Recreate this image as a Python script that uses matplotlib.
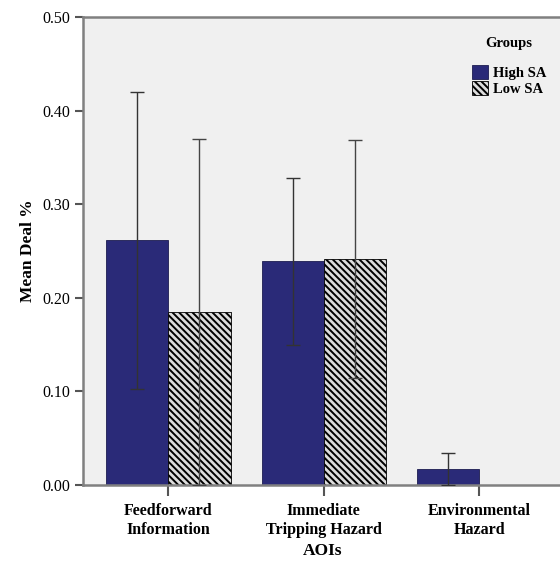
import matplotlib
matplotlib.use('Agg')
import matplotlib.pyplot as plt
import numpy as np

aois = ['Feedforward\nInformation', 'Immediate\nTripping Hazard', 'Environmental\nHazard']
groups = ['High SA', 'Low SA']
high_mean = [0.262, 0.239, 0.017]
high_lo = [0.103, 0.150, 0.000]
high_hi = [0.420, 0.328, 0.034]
low_mean = [0.185, 0.241, 0.0]
low_lo = [0.0, 0.114, 0.0]
low_hi = [0.370, 0.369, 0.0]

plt.rcParams['font.family'] = ['Liberation Serif', 'DejaVu Serif']
plt.rcParams['hatch.linewidth'] = 1.4

fig = plt.figure(figsize=(5.6, 5.66), dpi=100)
ax = fig.add_axes([0.148, 0.143, 0.855, 0.827])
ax.set_facecolor('#f0f0f0')

x = np.arange(len(aois))
w = 0.4
hm = np.array(high_mean)
lm = np.array(low_mean)
ax.bar(x - w / 2, hm, w, color='#2a2a78', edgecolor='#1c1c50', linewidth=0.6,
       label=groups[0], zorder=2)
ax.bar(x + w / 2, lm, w, color='#dcdcdc', edgecolor='black', hatch='\\\\\\\\\\',
       linewidth=0.6, label=groups[1], zorder=2)

herr = [hm - np.array(high_lo), np.array(high_hi) - hm]
lerr = [lm - np.array(low_lo), np.array(low_hi) - lm]
m = hm > 0
ax.errorbar((x - w / 2)[m], hm[m], yerr=[herr[0][m], herr[1][m]], fmt='none',
            ecolor='#333333', elinewidth=1.0, capsize=5, capthick=1.0, zorder=3)
m = lm > 0
ax.errorbar((x + w / 2)[m], lm[m], yerr=[lerr[0][m], lerr[1][m]], fmt='none',
            ecolor='#444444', elinewidth=1.0, capsize=5, capthick=1.0, zorder=3)

ax.set_xlim(-0.55, 2.53)
ax.set_ylim(0, 0.5)
ax.set_yticks([0, 0.1, 0.2, 0.3, 0.4, 0.5])
ax.set_yticklabels(['%.2f' % v for v in [0, 0.1, 0.2, 0.3, 0.4, 0.5]], fontsize=11.5)
ax.set_xticks(x)
ax.set_xticklabels(aois, fontsize=11.5, fontweight='bold')
ax.tick_params(axis='y', length=6, width=1.5, color='#555555', pad=3)
ax.tick_params(axis='x', length=8, width=1.5, color='#555555', pad=5)

for s in ['left', 'top', 'bottom']:
    ax.spines[s].set_color('#808080')
    ax.spines[s].set_linewidth(1.8)
ax.spines['right'].set_visible(False)

ax.set_ylabel('Mean Deal %', fontsize=12.5, fontweight='bold', labelpad=5)
ax.set_xlabel('AOIs', fontsize=12.5, fontweight='bold', labelpad=4)

leg = ax.legend(title='Groups', loc='upper right', bbox_to_anchor=(0.995, 0.985),
                frameon=False, prop={'weight': 'bold', 'size': 10.5},
                handlelength=1.1, handleheight=1.1, handletextpad=0.3,
                labelspacing=0.05)
leg.get_title().set_fontweight('bold')
leg.get_title().set_fontsize(10.5)
leg._legend_box.sep = 11

fig.savefig('out.png', dpi=100)
